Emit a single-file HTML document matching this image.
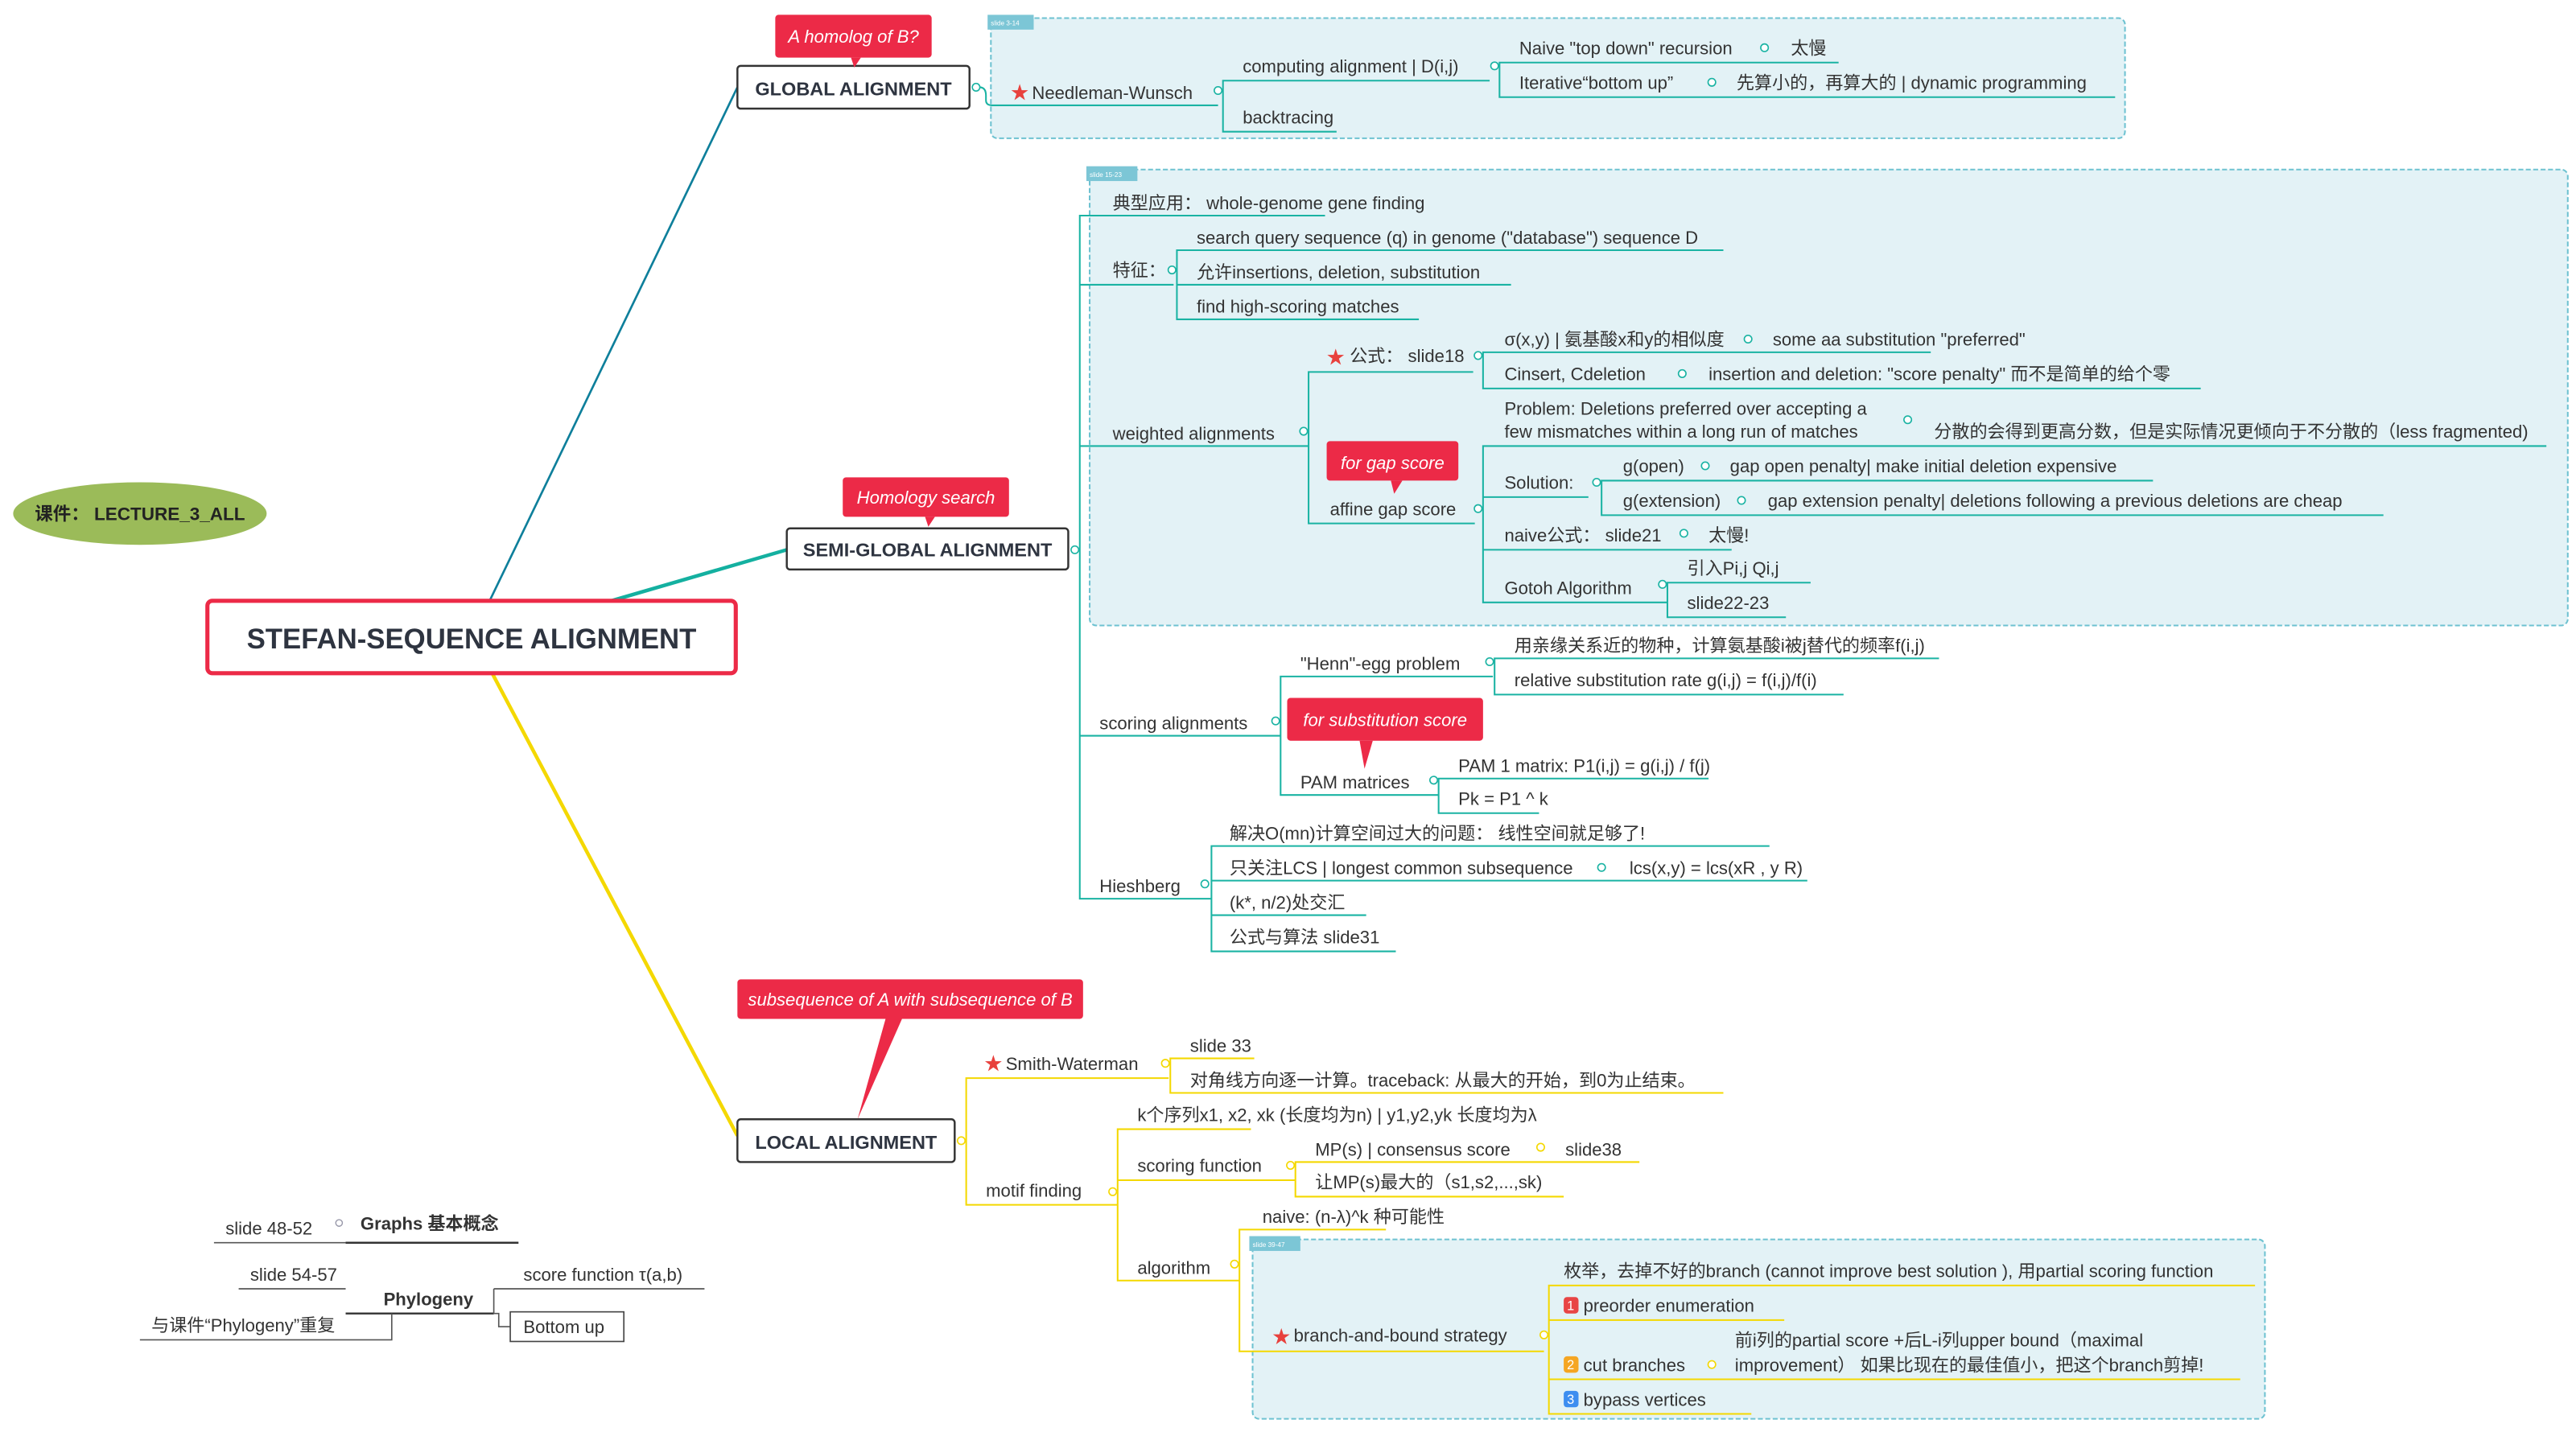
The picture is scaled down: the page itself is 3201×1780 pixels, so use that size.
<!DOCTYPE html>
<html><head><meta charset="utf-8"><style>
html,body{margin:0;padding:0;background:#fff;}
svg{display:block}
text{font-family:"Liberation Sans","Noto Sans CJK SC",sans-serif;font-size:10.8px;fill:#333}
.b{font-weight:bold}
.w{fill:#fff;font-style:italic}
.tag{font-size:4px;fill:#fff}
.t{stroke:#1ab3a3;stroke-width:1;fill:none}
.y{stroke:#f4d800;stroke-width:1;fill:none}
.c{fill:#fff;stroke:#1ab3a3;stroke-width:.8}
.cy{fill:#fff;stroke:#f4d800;stroke-width:.8}
.box{fill:#e3f2f6;stroke:#6ec2d1;stroke-width:1;stroke-dasharray:3 1.5}
.tg{fill:#7cc6d6}
.star{fill:#e8413d;font-size:11px}
</style></head><body>
<svg width="3201" height="1780" viewBox="0 0 1565 870" preserveAspectRatio="none" xmlns="http://www.w3.org/2000/svg">
<line x1="297" y1="366" x2="448" y2="53" stroke="#0e7f9b" stroke-width="1.3"/>
<line x1="368" y1="366" x2="478" y2="334" stroke="#14b0a0" stroke-width="2.2"/>
<path d="M299 409 L448 690" stroke="#f4d800" stroke-width="2.2" fill="none"/>

<rect x="126" y="365" width="321" height="44" rx="3" fill="#fff" stroke="#ec2a47" stroke-width="2.5"/>
<text x="286.5" y="394" text-anchor="middle" class="b" style="font-size:17px;fill:#2e3440">STEFAN-SEQUENCE ALIGNMENT</text>

<ellipse cx="85" cy="312" rx="77" ry="19" fill="#9bbb59"/>
<text x="85" y="316" text-anchor="middle" class="b" style="font-size:11px;fill:#222">课件：  LECTURE_3_ALL</text>

<rect x="602" y="11" width="689" height="73" rx="4" class="box"/>
<rect x="600" y="9" width="28" height="9" class="tg"/><text x="602" y="15.5" class="tag">slide 3-14</text>
<rect x="448" y="40" width="141" height="26" rx="2" fill="#fff" stroke="#333" stroke-width="1.2"/>
<text x="518.5" y="58" text-anchor="middle" class="b" style="font-size:11.5px;fill:#2e3440">GLOBAL ALIGNMENT</text>
<rect x="471" y="9" width="95" height="26" rx="2" fill="#ec2a47"/><path d="M517 35 L523 35 L519 41Z" fill="#ec2a47"/>
<text x="518.5" y="26" text-anchor="middle" class="w">A homolog of B?</text>
<circle cx="593" cy="53" r="2.3" class="c"/>
<path class="t" d="M595 53 Q599 53 599 58 L599 61 Q599 64 603 64 L740 64"/>
<text x="614" y="60" class="star">★</text><text x="627" y="60">Needleman-Wunsch</text>
<circle cx="740" cy="55" r="2.3" class="c"/>
<path class="t" d="M905 49 L743 49 L743 80 L812 80"/>
<text x="755" y="44">computing alignment | D(i,j)</text>
<text x="755" y="75">backtracing</text>
<circle cx="908" cy="40" r="2.3" class="c"/>
<path class="t" d="M1117 38 L911 38 L911 59 L1285 59"/>
<text x="923" y="33">Naive "top down" recursion</text><circle cx="1072" cy="29" r="2.3" class="c"/><text x="1088" y="33">太慢</text>
<text x="923" y="54">Iterative“bottom up”</text><circle cx="1040" cy="50" r="2.3" class="c"/><text x="1055" y="54">先算小的，再算大的 | dynamic programming</text>

<rect x="662" y="103" width="898" height="277" rx="4" class="box"/>
<rect x="660" y="101" width="31" height="9" class="tg"/><text x="662" y="107.5" class="tag">slide 15-23</text>
<rect x="478" y="321" width="171" height="25" rx="2" fill="#fff" stroke="#333" stroke-width="1.2"/>
<text x="563.5" y="338" text-anchor="middle" class="b" style="font-size:11.5px;fill:#2e3440">SEMI-GLOBAL ALIGNMENT</text>
<rect x="512" y="290" width="101" height="24" rx="2" fill="#ec2a47"/><path d="M562 314 L568 314 L564 320Z" fill="#ec2a47"/>
<text x="562.5" y="306" text-anchor="middle" class="w">Homology search</text>
<circle cx="653" cy="334" r="2.3" class="c"/>
<path class="t" d="M805 131 L656 131 L656 546 L736 546"/>
<path class="t" d="M656 173 L713 173"/><path class="t" d="M656 271 L795 271"/><path class="t" d="M656 447 L778 447"/>
<text x="676" y="127">典型应用：  whole-genome gene finding</text>
<text x="676" y="168">特征：</text><circle cx="712" cy="164" r="2.3" class="c"/>
<path class="t" d="M1047 152 L715 152 L715 194 L862 194"/><path class="t" d="M715 173 L918 173"/>
<text x="727" y="148">search query sequence (q) in genome ("database") sequence D</text>
<text x="727" y="169">允许insertions, deletion, substitution</text>
<text x="727" y="190">find high-scoring matches</text>
<text x="676" y="267">weighted alignments</text><circle cx="792" cy="262" r="2.3" class="c"/>
<path class="t" d="M895 226 L795 226 L795 318 L896 318"/>
<text x="806" y="221" class="star">★</text><text x="820" y="220">公式：  slide18</text><circle cx="898" cy="216" r="2.3" class="c"/>
<path class="t" d="M1173 214 L901 214 L901 236 L1337 236"/>
<text x="914" y="210">σ(x,y) | 氨基酸x和y的相似度</text><circle cx="1062" cy="206" r="2.3" class="c"/><text x="1077" y="210">some aa substitution  "preferred"</text>
<text x="914" y="231">Cinsert,    Cdeletion</text><circle cx="1022" cy="227" r="2.3" class="c"/><text x="1038" y="231">insertion and deletion: "score penalty" 而不是简单的给个零</text>
<text x="808" y="313">affine gap score</text><circle cx="898" cy="309" r="2.3" class="c"/>
<rect x="806" y="268" width="80" height="24" rx="2" fill="#ec2a47"/><path d="M845 292 L852 292 L847 300Z" fill="#ec2a47"/>
<text x="846" y="285" text-anchor="middle" class="w">for gap score</text>
<path class="t" d="M1547 271 L901 271 L901 366 L1013 366"/><path class="t" d="M901 302 L965 302"/><path class="t" d="M901 334 L1052 334"/>
<text x="914" y="252">Problem: Deletions preferred over accepting a</text>
<text x="914" y="266">few mismatches within a long run of matches</text><circle cx="1159" cy="255" r="2.3" class="c"/>
<text x="1175" y="266">分散的会得到更高分数，但是实际情况更倾向于不分散的（less fragmented)</text>
<text x="914" y="297">Solution:</text><circle cx="970" cy="293" r="2.3" class="c"/>
<path class="t" d="M1308 292 L973 292 L973 313 L1448 313"/>
<text x="986" y="287">g(open)</text><circle cx="1036" cy="283" r="2.3" class="c"/><text x="1051" y="287">gap open penalty| make initial deletion expensive</text>
<text x="986" y="308">g(extension)</text><circle cx="1058" cy="304" r="2.3" class="c"/><text x="1074" y="308">gap extension penalty| deletions following a previous deletions are cheap</text>
<text x="914" y="329">naive公式：  slide21</text><circle cx="1023" cy="324" r="2.3" class="c"/><text x="1038" y="329">太慢!</text>
<text x="914" y="361">Gotoh Algorithm</text><circle cx="1010" cy="355" r="2.3" class="c"/>
<path class="t" d="M1100 354 L1013 354 L1013 375 L1085 375"/>
<text x="1025" y="349">引入Pi,j  Qi,j</text><text x="1025" y="370">slide22-23</text>

<text x="668" y="443">scoring alignments</text><circle cx="775" cy="438" r="2.3" class="c"/>
<path class="t" d="M907 411 L778 411 L778 483 L874 483"/>
<text x="790" y="407">"Henn"-egg problem</text><circle cx="905" cy="402" r="2.3" class="c"/>
<path class="t" d="M1178 400 L908 400 L908 422 L1120 422"/>
<text x="920" y="396">用亲缘关系近的物种，计算氨基酸i被j替代的频率f(i,j)</text>
<text x="920" y="417">relative substitution rate g(i,j) = f(i,j)/f(i)</text>
<rect x="782" y="424" width="119" height="26" rx="2" fill="#ec2a47"/><path d="M826 450 L834 450 L829 467Z" fill="#ec2a47"/>
<text x="841.5" y="441" text-anchor="middle" class="w">for substitution score</text>
<text x="790" y="479">PAM matrices</text><circle cx="871" cy="474" r="2.3" class="c"/>
<path class="t" d="M1038 473 L874 473 L874 494 L935 494"/>
<text x="886" y="469">PAM 1 matrix: P1(i,j) = g(i,j) / f(j)</text>
<text x="886" y="489">Pk = P1 ^ k</text>
<text x="668" y="542">Hieshberg</text><circle cx="732" cy="537" r="2.3" class="c"/>
<path class="t" d="M1075 514 L736 514 L736 578 L848 578"/><path class="t" d="M736 535 L1098 535"/><path class="t" d="M736 556 L830 556"/>
<text x="747" y="510">解决O(mn)计算空间过大的问题：  线性空间就足够了!</text>
<text x="747" y="531">只关注LCS | longest common subsequence</text><circle cx="973" cy="527" r="2.3" class="c"/><text x="990" y="531">lcs(x,y) = lcs(xR , y R)</text>
<text x="747" y="552">(k*, n/2)处交汇</text>
<text x="747" y="573">公式与算法 slide31</text>

<rect x="448" y="595" width="210" height="24" rx="2" fill="#ec2a47"/><path d="M538 619 L548 619 L521 680Z" fill="#ec2a47"/>
<text x="553" y="611" text-anchor="middle" class="w">subsequence of A with subsequence of B</text>
<rect x="448" y="680" width="132" height="26" rx="2" fill="#fff" stroke="#333" stroke-width="1.2"/>
<text x="514" y="698" text-anchor="middle" class="b" style="font-size:11.5px;fill:#2e3440">LOCAL ALIGNMENT</text>
<circle cx="584" cy="693" r="2.3" class="cy"/>
<path class="y" d="M710 655 L587 655 L587 732 L679 732"/>
<text x="598" y="650" class="star">★</text><text x="611" y="650">Smith-Waterman</text><circle cx="708" cy="646" r="2.3" class="cy"/>
<path class="y" d="M762 643 L711 643 L711 664 L1047 664"/>
<text x="723" y="639">slide 33</text><text x="723" y="660">对角线方向逐一计算。traceback: 从最大的开始，到0为止结束。</text>
<text x="599" y="727">motif finding</text><circle cx="676" cy="724" r="2.3" class="cy"/>
<path class="y" d="M760 686 L679 686 L679 778 L753 778"/><path class="y" d="M679 717 L787 717"/>
<text x="691" y="681">k个序列x1, x2, xk (长度均为n)   | y1,y2,yk 长度均为λ</text>
<text x="691" y="712">scoring function</text><circle cx="784" cy="708" r="2.3" class="cy"/>
<path class="y" d="M996 706 L787 706 L787 727 L950 727"/>
<text x="799" y="702">MP(s) | consensus score</text><circle cx="936" cy="697" r="2.3" class="cy"/><text x="951" y="702">slide38</text>
<text x="799" y="722">让MP(s)最大的（s1,s2,...,sk)</text>
<rect x="761" y="753" width="615" height="109" rx="4" class="box"/>
<rect x="759" y="751" width="31" height="9" class="tg"/><text x="761" y="757.5" class="tag">slide 39-47</text>
<text x="691" y="774">algorithm</text><circle cx="750" cy="768" r="2.3" class="cy"/>
<path class="y" d="M842 747 L753 747 L753 821 L938 821"/>
<text x="767" y="743">naive: (n-λ)^k 种可能性</text>
<text x="773" y="816" class="star">★</text><text x="786" y="815">branch-and-bound strategy</text><circle cx="938" cy="811" r="2.3" class="cy"/>
<path class="y" d="M1370 781 L941 781 L941 859 L1064 859"/><path class="y" d="M941 802 L1084 802"/><path class="y" d="M941 838 L1361 838"/>
<text x="950" y="776">枚举，去掉不好的branch (cannot improve best solution ), 用partial scoring function</text>
<rect x="950" y="788" width="9" height="10" rx="2" fill="#e84545"/><text x="952" y="796" style="font-size:8px;fill:#fff">1</text><text x="962" y="797">preorder enumeration</text>
<rect x="950" y="824" width="9" height="10" rx="2" fill="#f5a623"/><text x="952" y="832" style="font-size:8px;fill:#fff">2</text><text x="962" y="833">cut branches</text>
<circle cx="1040" cy="829" r="2.3" class="cy"/>
<text x="1054" y="818">前i列的partial score +后L-i列upper bound（maximal</text>
<text x="1054" y="833">improvement） 如果比现在的最佳值小，把这个branch剪掉!</text>
<rect x="950" y="845" width="9" height="10" rx="2" fill="#3d8ef0"/><text x="952" y="853" style="font-size:8px;fill:#fff">3</text><text x="962" y="854">bypass vertices</text>

<path d="M130 755 L210 755" stroke="#555" stroke-width=".8"/>
<path d="M210 755 L315 755" stroke="#333" stroke-width="1.2"/>
<text x="137" y="750">slide 48-52</text>
<circle cx="206" cy="743" r="2" fill="#fff" stroke="#99a" stroke-width=".7"/>
<text x="219" y="747" class="b">Graphs 基本概念</text>
<path d="M145 783 L210 783" stroke="#555" stroke-width=".8"/>
<text x="152" y="778">slide 54-57</text>
<path d="M210 798 L300 798" stroke="#333" stroke-width="1.2"/>
<text x="233" y="793" class="b">Phylogeny</text>
<path d="M85 814 L238 814 L238 798" stroke="#555" stroke-width=".8" fill="none"/>
<text x="92" y="809">与课件“Phylogeny”重复</text>
<path d="M300 783 L428 783" stroke="#555" stroke-width=".8"/>
<text x="318" y="778">score function τ(a,b)</text>
<path d="M300 798 L300 783 M300 798 L303 798 L303 806 L310 806" stroke="#555" stroke-width=".8" fill="none"/>
<rect x="310" y="797" width="69" height="18" fill="#fff" stroke="#444" stroke-width=".8"/>
<text x="318" y="810">Bottom up</text>
</svg>
</body></html>
